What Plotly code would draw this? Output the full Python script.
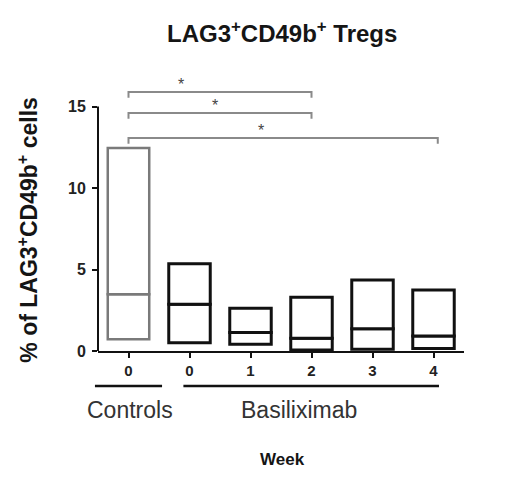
import plotly.graph_objects as go

# ---- data ----
tick_labels = ["0", "0", "1", "2", "3", "4"]
groups = ["Controls", "Basiliximab", "Basiliximab", "Basiliximab", "Basiliximab", "Basiliximab"]
mins = [0.72, 0.51, 0.41, 0.06, 0.10, 0.16]
medians = [3.48, 2.87, 1.13, 0.78, 1.37, 0.92]
maxs = [12.46, 5.35, 2.62, 3.30, 4.36, 3.75]

# significance brackets: (start category, end category, height)
sig_start = [0, 0, 0]
sig_end = [3, 3, 5.07]
sig_y = [15.9, 14.6, 13.07]
sig_text = ["*", "*", "*"]
sig_text_x = [0.86, 1.42, 2.17]

# group underline spans (category units)
grp_names = ["Controls", "Basiliximab"]
grp_start = [-0.55, 0.9]
grp_end = [0.55, 5.09]
grp_label_x = [0.03, 2.8]

FONT = "Arial, Liberation Sans, sans-serif"
xpos = list(range(len(tick_labels)))
line_colors = ["#7a7a7a" if g == "Controls" else "#111111" for g in groups]
line_widths = [2.5 if g == "Controls" else 3 for g in groups]

fig = go.Figure()
fig.add_trace(go.Bar(
    x=xpos, base=mins, y=[m - n for m, n in zip(medians, mins)],
    width=0.68, marker=dict(color="white", line=dict(color=line_colors, width=line_widths)),
    showlegend=False, hoverinfo="skip"))
fig.add_trace(go.Bar(
    x=xpos, base=medians, y=[m - n for m, n in zip(maxs, medians)],
    width=0.68, marker=dict(color="white", line=dict(color=line_colors, width=line_widths)),
    showlegend=False, hoverinfo="skip"))

tick_h = 0.35
for s, e, y, t, tx in zip(sig_start, sig_end, sig_y, sig_text, sig_text_x):
    fig.add_trace(go.Scatter(
        x=[s, s, e, e], y=[y - tick_h, y, y, y - tick_h], mode="lines",
        line=dict(color="#8a8a8a", width=2), showlegend=False, hoverinfo="skip"))
    fig.add_annotation(x=tx, y=y + 0.48, text=t, showarrow=False,
                       font=dict(family=FONT, size=16, color="#444"),
                       xanchor="center", yanchor="middle")

def to_paper(c):
    return (c + 0.5) / 6.0

for name, s, e, lx in zip(grp_names, grp_start, grp_end, grp_label_x):
    fig.add_shape(type="line", xref="paper", yref="paper",
                  x0=to_paper(s), x1=to_paper(e), y0=-0.126, y1=-0.126,
                  line=dict(color="#111", width=2.5))
    fig.add_annotation(xref="paper", yref="paper", x=to_paper(lx), y=-0.213,
                       text=name, showarrow=False, xanchor="center", yanchor="middle",
                       font=dict(family=FONT, size=23, color="#333"))

# y axis line only from 0 to 15
fig.add_shape(type="line", xref="paper", yref="y", x0=0, x1=0, y0=0, y1=15,
              line=dict(color="#111", width=2))

fig.add_annotation(xref="paper", yref="paper", x=0.504, y=1.152,
                   text="<b>LAG3<sup>+</sup>CD49b<sup>+</sup> Tregs</b>", showarrow=False,
                   xanchor="center", yanchor="middle",
                   font=dict(family=FONT, size=24, color="#151515"))
fig.add_annotation(xref="paper", yref="paper", x=-0.192, y=0.437, textangle=-90,
                   text="<b>% of LAG3<sup>+</sup>CD49b<sup>+</sup> cells</b>", showarrow=False,
                   xanchor="center", yanchor="middle",
                   font=dict(family=FONT, size=23, color="#151515"))
fig.add_annotation(xref="paper", yref="paper", x=0.505, y=-0.39,
                   text="<b>Week</b>", showarrow=False,
                   xanchor="center", yanchor="middle",
                   font=dict(family=FONT, size=17, color="#151515"))

fig.update_layout(
    width=512, height=480,
    margin=dict(l=90, r=56, t=66, b=137),
    plot_bgcolor="white", paper_bgcolor="white",
    barmode="overlay",
    font=dict(family=FONT),
    xaxis=dict(range=[-0.5, 5.5], tickvals=xpos, ticktext=tick_labels,
               ticks="outside", ticklen=5, tickwidth=2, tickcolor="#111",
               showline=True, linecolor="#111", linewidth=2,
               showgrid=False, zeroline=False,
               tickfont=dict(family=FONT, size=15, color="#222", weight="bold")),
    yaxis=dict(range=[0, 17], tickvals=[0, 5, 10, 15],
               ticks="outside", ticklen=5, tickwidth=2, tickcolor="#111",
               showline=False, showgrid=False, zeroline=False,
               ticklabelstandoff=3,
               tickfont=dict(family=FONT, size=16, color="#222", weight="bold")),
)

fig.write_html("out.html")
